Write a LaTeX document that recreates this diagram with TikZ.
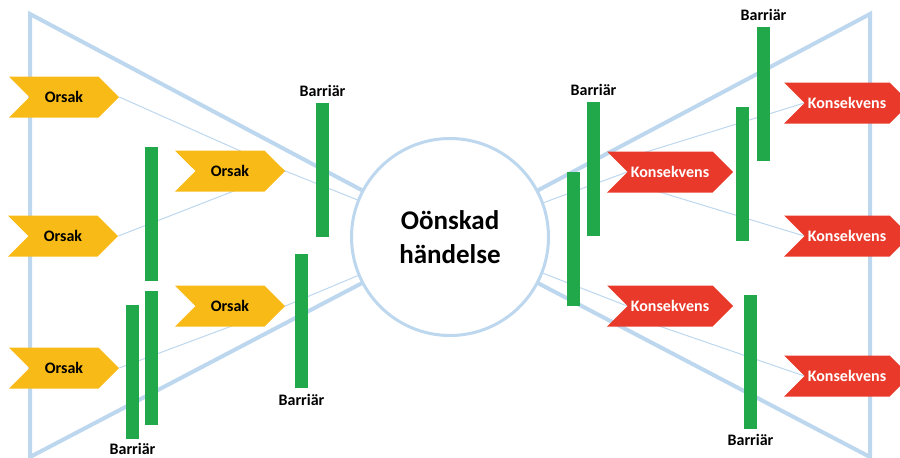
\documentclass[tikz,border=0pt]{standalone}
\usepackage{fontspec}
\setmainfont{Carlito}
\usepackage{tikz}
\usetikzlibrary{shapes.symbols,positioning,backgrounds}

\definecolor{bowblue}{RGB}{189,215,238}
\definecolor{causeyellow}{RGB}{248,186,22}
\definecolor{effectred}{RGB}{232,57,42}
\definecolor{bargreen}{RGB}{33,168,75}

\begin{document}
\begin{tikzpicture}[x=1pt, y=-1pt,
  bowtie/.style={bowblue, line width=4pt, line join=miter},
  link/.style={bowblue, line width=1pt},
  cause/.style={signal, signal to=east, signal from=west, signal pointer angle=90,
    fill=causeyellow, minimum width=110pt, minimum height=41pt, inner sep=0pt,
    font=\fontsize{16}{19}\selectfont\bfseries},
  effect/.style={cause, fill=effectred, text=white, minimum width=126pt},
  barrier/.style={fill=bargreen, minimum width=13pt, minimum height=134pt, inner sep=0pt},
  barlabel/.style={inner sep=0pt, font=\fontsize{16}{19}\selectfont\bfseries}]
\useasboundingbox (0,0) rectangle (900,458);

% Bow-tie frame
\coordinate (tl) at (30,14);
\coordinate (bl) at (30,457);
\coordinate (tr) at (870,14);
\coordinate (br) at (870,457);
\coordinate (mid) at (450,237);
\draw[bowtie] (mid) -- (tl) -- (bl) -- cycle;
\draw[bowtie] (mid) -- (tr) -- (br) -- cycle;

% Causes
\node[cause] (o1) at (64,97) {Orsak};
\node[cause] (o2) at (230,171) {Orsak};
\node[cause] (o3) at (63,236) {Orsak};
\node[cause] (o4) at (230,306) {Orsak};
\node[cause] (o5) at (64,368) {Orsak};

% Consequences
\node[effect] (k1) at (670,172) {Konsekvens};
\node[effect] (k2) at (847,103) {Konsekvens};
\node[effect] (k3) at (847,236) {Konsekvens};
\node[effect] (k4) at (670,306) {Konsekvens};
\node[effect] (k5) at (847,376) {Konsekvens};

% Thin links (behind the shapes)
\begin{scope}[on background layer]
\draw[link] (o1.east) -- (o2.east) -- (mid);
\draw[link] (o3.east) -- (o2.east);
\draw[link] (o5.east) -- (o4.east) -- (mid);
\draw[link] (mid) -- (k1.west);
\draw[link] (mid) -- (k4.west);
\draw[link] ([shift={(-40,-15)}]k1.center) -- (k2.west);
\draw[link] ([shift={(-40,11)}]k1.center) -- (k3.west);
\draw[link] ([shift={(-40,10)}]k4.center) -- (k5.west);
\end{scope}

% Event
\node[circle, draw=bowblue, line width=3pt, fill=white, minimum size=197pt,
  align=center, font=\fontsize{27}{34}\selectfont\bfseries] (ev) at (mid) {Oönskad\\händelse};

% Barriers
\node[barrier] (b1) at (151.5,214) {};
\node[barrier] (b2) at (151.5,358) {};
\node[barrier] (b3) at (132.5,372) {};
\node[barrier] (b4) at (322.5,170) {};
\node[barrier] (b5) at (301.5,320.5) {};
\node[barrier] (b6) at (573,239) {};
\node[barrier] (b7) at (593.5,169) {};
\node[barrier] (b8) at (742.5,174) {};
\node[barrier] (b9) at (763.5,94) {};
\node[barrier] (b10) at (750.5,362) {};

\node[barlabel, below=4pt of b3] (l3) {Barriär};
\node[barlabel, above=6pt of b4] (l4) {Barriär};
\node[barlabel, below=6pt of b5] (l5) {Barriär};
\node[barlabel, above=6pt of b7] (l7) {Barriär};
\node[barlabel, above=6pt of b9] (l9) {Barriär};
\node[barlabel, below=5pt of b10] (l10) {Barriär};
\end{tikzpicture}
\end{document}
